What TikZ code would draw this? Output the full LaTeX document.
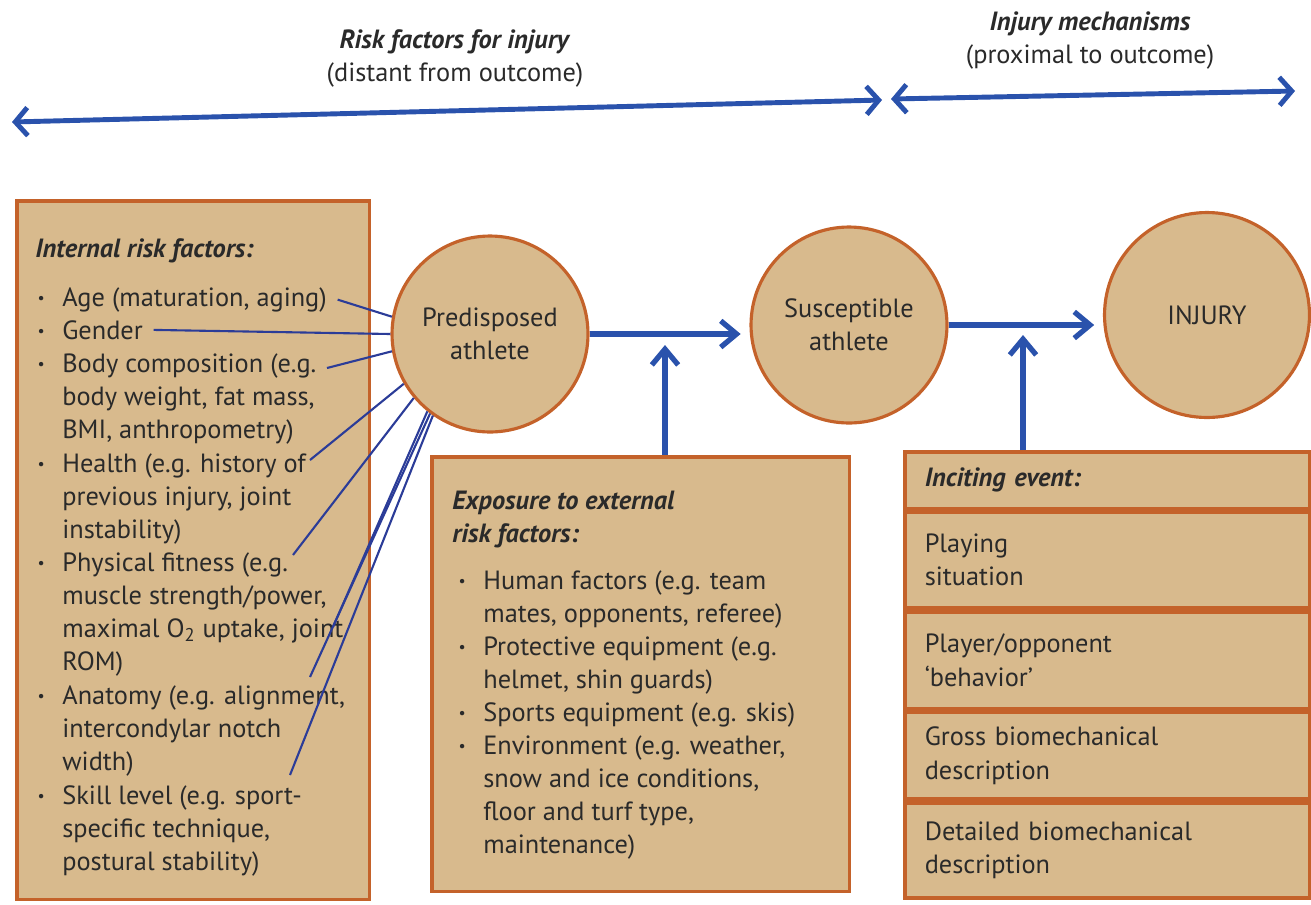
\documentclass[tikz,border=0pt]{standalone}
\usepackage{fontspec}
\setmainfont{PT Sans}
\usetikzlibrary{arrows.meta,positioning}

\definecolor{tan}{HTML}{D8BA8D}
\definecolor{rust}{HTML}{C4622A}
\definecolor{flowblue}{HTML}{2A52AC}
\definecolor{linkblue}{HTML}{2B3C98}
\definecolor{ink}{HTML}{2A2A2A}

\newcommand\bodysize{\fontsize{15}{18.8}\selectfont}
\newcommand\dotmark{\llap{\raisebox{0.2ex}{\scalebox{0.6}{\textbullet}}\hspace{10pt}}}

\tikzset{
  panel/.style={draw=rust, fill=tan, line width=2pt, rectangle, inner sep=0pt, anchor=north west},
  stage/.style={draw=rust, fill=tan, line width=1.8pt, circle, minimum size=3.92cm, inner sep=0pt, align=center},
  row/.style={panel, minimum width=8.1cm, text width=7.3cm, inner xsep=0.4cm, align=left},
  item/.style={anchor=north west, inner sep=0pt, align=left},
  head/.style={item, font=\bodysize\bfseries\itshape},
  headline/.style={inner sep=0pt, align=center},
  link/.style={linkblue, line width=1.2pt},
  flow/.style={flowblue, line width=3pt, -{Straight Barb[length=9pt,width=15pt]}},
  span/.style={flowblue, line width=2.8pt, {Straight Barb[length=7pt,width=16pt]}-{Straight Barb[length=7pt,width=16pt]}},
}

\begin{document}
\begin{tikzpicture}[x=0.02cm, y=-0.02cm, font=\bodysize, text=ink]
  \useasboundingbox (0,0) rectangle (1311,904);

  % headings and time line
  \node[headline] (riskhead) at (455,58) {\textbf{\textit{Risk factors for injury}}\\(distant from outcome)};
  \node[headline] (mechhead) at (1090,41) {\textbf{\textit{Injury mechanisms}}\\(proximal to outcome)};
  \coordinate (far) at (12,122);
  \coordinate (splitl) at (882,100);
  \coordinate (splitr) at (891,99);
  \coordinate (near) at (1295,91);
  \draw[span] (far) -- (splitl);
  \draw[span] (splitr) -- (near);

  % boxes
  \node[panel, minimum width=7.06cm, minimum height=13.98cm] (internal) at (15,199) {};
  \node[panel, minimum width=8.36cm, minimum height=8.7cm] (external) at (430,455) {};
  \node[row, minimum height=1.14cm] (ev0) at (903,450) {\textbf{\textit{Inciting event:}}};
  \node[row, minimum height=1.92cm, below=0pt of ev0] (ev1) {Playing\\situation};
  \node[row, minimum height=1.94cm, below=0pt of ev1] (ev2) {Player/opponent\\`behavior'};
  \node[row, minimum height=1.74cm, below=0pt of ev2] (ev3) {Gross biomechanical\\description};
  \node[row, minimum height=1.90cm, below=0pt of ev3] (ev4) {Detailed biomechanical\\description};

  % stages
  \node[stage] (pred) at (490,334) {Predisposed\\athlete};
  \node[stage] (susc) at (849,325) {Susceptible\\athlete};
  \node[stage, minimum size=4.1cm] (injury) at (1207,315) {INJURY};

  % internal risk factors
  \node[head] (inthead) at (35,238) {Internal risk factors:};
  \node[item] (age) at (62,287) {\dotmark Age (maturation, aging)};
  \node[item] (gender) at (62,320) {\dotmark Gender};
  \node[item] (body) at (62,353) {\dotmark Body composition (e.g.\\body weight, fat mass,\\BMI, anthropometry)};
  \node[item] (health) at (62,453) {\dotmark Health (e.g. history of\\previous injury, joint\\instability)};
  \node[item] (fitness) at (62,552) {\dotmark Physical fitness (e.g.\\muscle strength/power,\\maximal O\textsubscript{2} uptake, joint\\ROM)};
  \node[item] (anatomy) at (62,685) {\dotmark Anatomy (e.g. alignment,\\intercondylar notch\\width)};
  \node[item] (skill) at (62,785) {\dotmark Skill level (e.g. sport-\\specific technique,\\postural stability)};

  % external risk factors
  \node[head] (exthead) at (452,491) {Exposure to external\\risk factors:};
  \node[item] (extlist) at (483,570) {\dotmark Human factors (e.g. team\\mates, opponents, referee)\\\dotmark Protective equipment (e.g.\\helmet, shin guards)\\\dotmark Sports equipment (e.g. skis)\\\dotmark Environment (e.g. weather,\\snow and ice conditions,\\floor and turf type,\\maintenance)};

  % factor lines
  \coordinate (body end) at (327,368);
  \coordinate (health end) at (310,460);
  \coordinate (fitness end) at (293,555);
  \coordinate (joint end) at (333,627);
  \coordinate (anatomy end) at (310,677);
  \coordinate (skill end) at (290,775);
  \draw[link] ([xshift=6pt]age.east) -- (pred.170);
  \draw[link] ([xshift=6pt]gender.east) -- (pred.180);
  \draw[link] (body end) -- (pred.190);
  \draw[link] (health end) -- (pred.210);
  \draw[link] (fitness end) -- (pred.220);
  \draw[link] (joint end) -- (pred.231);
  \draw[link] (anatomy end) -- (pred.233);
  \draw[link] (skill end) -- (pred.235);

  % flow
  \coordinate (extin) at (665,345);
  \coordinate (evin) at (1023,335);
  \draw[flow, shorten >=5pt] (pred.east) -- (pred.east -| susc.west);
  \draw[flow, shorten >=5pt] (susc.east) -- (susc.east -| injury.west);
  \draw[flow] (external.north -| extin) -- (extin);
  \draw[flow] (ev0.north -| evin) -- (evin);
\end{tikzpicture}
\end{document}
